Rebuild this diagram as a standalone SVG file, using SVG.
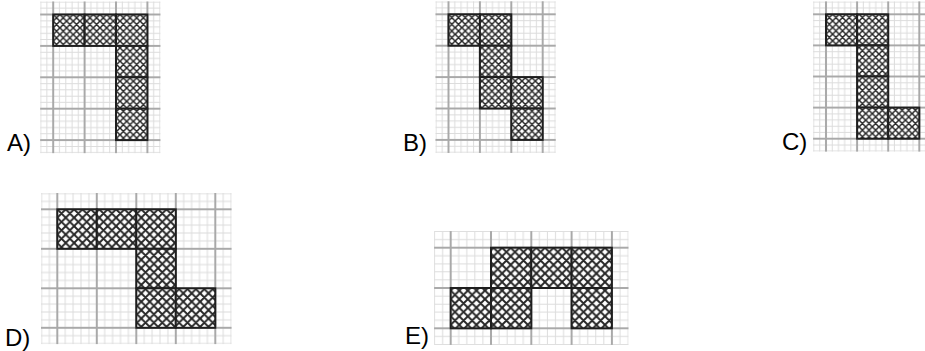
<svg xmlns="http://www.w3.org/2000/svg" width="925" height="351" viewBox="0 0 925 351">
<style>
.minor{fill:none;stroke:#dcdcdc;stroke-width:1}
.major{fill:none;stroke:#a9a9a9;stroke-width:2}
.hatch{fill:none;stroke:#262626;stroke-width:1.5}
.cell{stroke:#1e1e1e;stroke-width:2}
.lbl{font-family:"Liberation Sans",Arial,sans-serif;font-size:24px;fill:#000}
</style>
<defs>
<pattern id="g1" patternUnits="userSpaceOnUse" x="0" y="0" width="31.4" height="31.4">
<path class="minor" d="M6.28,0V31.4M12.56,0V31.4M18.84,0V31.4M25.12,0V31.4M0,6.28H31.4M0,12.56H31.4M0,18.84H31.4M0,25.12H31.4"/>
<path class="major" d="M0,0V31.4M31.4,0V31.4M0,0H31.4M0,31.4H31.4"/>
</pattern>
<pattern id="g2" patternUnits="userSpaceOnUse" x="0" y="0" width="31.1" height="31.1">
<path class="minor" d="M6.22,0V31.1M12.44,0V31.1M18.66,0V31.1M24.88,0V31.1M0,6.22H31.1M0,12.44H31.1M0,18.66H31.1M0,24.88H31.1"/>
<path class="major" d="M0,0V31.1M31.1,0V31.1M0,0H31.1M0,31.1H31.1"/>
</pattern>
<pattern id="g3" patternUnits="userSpaceOnUse" x="0" y="0" width="39.5" height="39.5">
<path class="minor" d="M7.9,0V39.5M15.8,0V39.5M23.7,0V39.5M31.6,0V39.5M0,7.9H39.5M0,15.8H39.5M0,23.7H39.5M0,31.6H39.5"/>
<path class="major" d="M0,0V39.5M39.5,0V39.5M0,0H39.5M0,39.5H39.5"/>
</pattern>
<pattern id="g4" patternUnits="userSpaceOnUse" x="0" y="0" width="40.3" height="40.3">
<path class="minor" d="M8.06,0V40.3M16.12,0V40.3M24.18,0V40.3M32.24,0V40.3M0,8.06H40.3M0,16.12H40.3M0,24.18H40.3M0,32.24H40.3"/>
<path class="major" d="M0,0V40.3M40.3,0V40.3M0,0H40.3M0,40.3H40.3"/>
</pattern>
<pattern id="h1" patternUnits="userSpaceOnUse" x="0" y="0" width="6.68" height="6.68">
<rect width="6.68" height="6.68" fill="#fff"/>
<path class="hatch" d="M0,0L6.68,6.68M6.68,0L0,6.68M-1,5.68L1,7.68M5.68,-1L7.68,1M-1,1L1,-1M5.68,7.68L7.68,5.68"/>
</pattern>
<pattern id="h2" patternUnits="userSpaceOnUse" x="0" y="0" width="6.62" height="6.62">
<rect width="6.62" height="6.62" fill="#fff"/>
<path class="hatch" d="M0,0L6.62,6.62M6.62,0L0,6.62M-1,5.62L1,7.62M5.62,-1L7.62,1M-1,1L1,-1M5.62,7.62L7.62,5.62"/>
</pattern>
<pattern id="h3" patternUnits="userSpaceOnUse" x="0" y="0" width="8.4" height="8.4">
<rect width="8.4" height="8.4" fill="#fff"/>
<path class="hatch" d="M0,0L8.4,8.4M8.4,0L0,8.4M-1,7.4L1,9.4M7.4,-1L9.4,1M-1,1L1,-1M7.4,9.4L9.4,7.4" style="stroke-width:1.9"/>
</pattern>
<pattern id="h4" patternUnits="userSpaceOnUse" x="0" y="0" width="8.57" height="8.57">
<rect width="8.57" height="8.57" fill="#fff"/>
<path class="hatch" d="M0,0L8.57,8.57M8.57,0L0,8.57M-1,7.57L1,9.57M7.57,-1L9.57,1M-1,1L1,-1M7.57,9.57L9.57,7.57" style="stroke-width:1.9"/>
</pattern>
</defs>

<g id="optionA">
<g transform="translate(53.2,14.5)">
<rect x="-13.06" y="-13.06" width="120.32" height="151.72" fill="url(#g1)"/>
<g class="cell" fill="url(#h1)">
<rect x="0" y="0" width="31.4" height="31.4"/>
<rect x="31.4" y="0" width="31.4" height="31.4"/>
<rect x="62.8" y="0" width="31.4" height="31.4"/>
<rect x="62.8" y="31.4" width="31.4" height="31.4"/>
<rect x="62.8" y="62.8" width="31.4" height="31.4"/>
<rect x="62.8" y="94.2" width="31.4" height="31.4"/>
</g>
</g>
<text class="lbl" x="7" y="151">A)</text>
</g>

<g id="optionB">
<g transform="translate(448.5,14.3)">
<rect x="-13.06" y="-13.06" width="120.32" height="151.72" fill="url(#g1)"/>
<g class="cell" fill="url(#h1)">
<rect x="0" y="0" width="31.4" height="31.4"/>
<rect x="31.4" y="0" width="31.4" height="31.4"/>
<rect x="31.4" y="31.4" width="31.4" height="31.4"/>
<rect x="31.4" y="62.8" width="31.4" height="31.4"/>
<rect x="62.8" y="62.8" width="31.4" height="31.4"/>
<rect x="62.8" y="94.2" width="31.4" height="31.4"/>
</g>
</g>
<text class="lbl" x="403" y="151">B)</text>
</g>

<g id="optionC">
<g transform="translate(826,14.3)">
<rect x="-12.94" y="-12.94" width="119.18" height="150.28" fill="url(#g2)"/>
<g class="cell" fill="url(#h2)">
<rect x="0" y="0" width="31.1" height="31.1"/>
<rect x="31.1" y="0" width="31.1" height="31.1"/>
<rect x="31.1" y="31.1" width="31.1" height="31.1"/>
<rect x="31.1" y="62.2" width="31.1" height="31.1"/>
<rect x="31.1" y="93.3" width="31.1" height="31.1"/>
<rect x="62.2" y="93.3" width="31.1" height="31.1"/>
</g>
</g>
<text class="lbl" x="782" y="150">C)</text>
</g>

<g id="optionD">
<g transform="translate(57.3,209.3)">
<rect x="-16.3" y="-16.3" width="190.6" height="151.1" fill="url(#g3)"/>
<g class="cell" fill="url(#h3)">
<rect x="0" y="0" width="39.5" height="39.5"/>
<rect x="39.5" y="0" width="39.5" height="39.5"/>
<rect x="79" y="0" width="39.5" height="39.5"/>
<rect x="79" y="39.5" width="39.5" height="39.5"/>
<rect x="79" y="79" width="39.5" height="39.5"/>
<rect x="118.5" y="79" width="39.5" height="39.5"/>
</g>
</g>
<text class="lbl" x="5" y="346">D)</text>
</g>

<g id="optionE">
<g transform="translate(450.7,247.7)">
<rect x="-16.62" y="-16.62" width="194.44" height="113.84" fill="url(#g4)"/>
<g class="cell" fill="url(#h4)">
<rect x="40.3" y="0" width="40.3" height="40.3"/>
<rect x="80.6" y="0" width="40.3" height="40.3"/>
<rect x="120.9" y="0" width="40.3" height="40.3"/>
<rect x="0" y="40.3" width="40.3" height="40.3"/>
<rect x="40.3" y="40.3" width="40.3" height="40.3"/>
<rect x="120.9" y="40.3" width="40.3" height="40.3"/>
</g>
</g>
<text class="lbl" x="405" y="344">E)</text>
</g>
</svg>
